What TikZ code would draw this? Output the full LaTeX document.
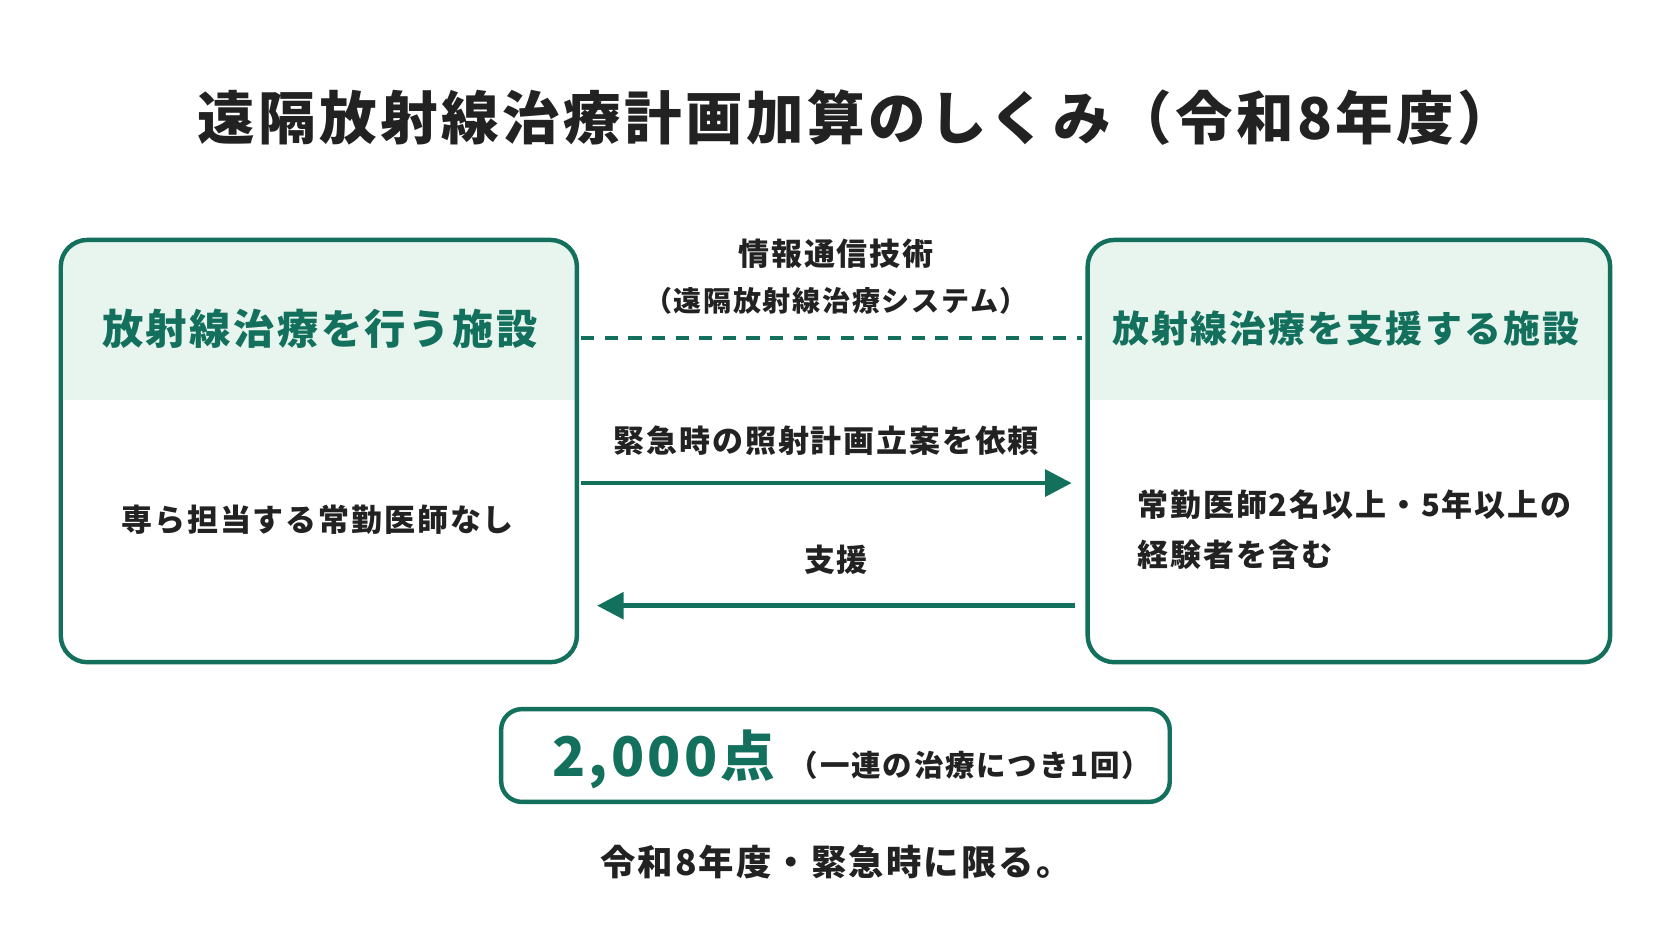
\documentclass[tikz,border=0pt]{standalone}
\usepackage{fontspec}
\setmainfont{Noto Sans CJK JP}[LetterSpace=6]
\usetikzlibrary{positioning,calc,arrows.meta}
\definecolor{deepgreen}{HTML}{12705C}
\definecolor{palegreen}{HTML}{E8F5EE}
\definecolor{inkgray}{HTML}{222222}
\tikzset{
  facility/.style={draw=deepgreen,line width=3pt,rounded corners=18pt},
  headtext/.style={text=deepgreen,font=\bfseries\fontsize{27}{34}\selectfont},
  bodytext/.style={text=inkgray,font=\bfseries\fontsize{21}{34}\selectfont},
  linktext/.style={text=inkgray,font=\bfseries\fontsize{21}{26}\selectfont},
  flow/.style={draw=deepgreen,line width=3pt,-{Triangle[length=18pt,width=18pt]}}
}
\begin{document}
\begin{tikzpicture}[x=0.0254cm,y=-0.0254cm]
        \useasboundingbox[fill=white] (0,0) rectangle (1568,882);
        \node[font=\bfseries\fontsize{39}{46}\selectfont,text=inkgray] (title) at (803,110) {遠隔放射線治療計画加算のしくみ（令和8年度）};

        % left facility
        \begin{scope}
            \clip[rounded corners=18pt] (57,225) rectangle (541,621);
            \fill[palegreen] (57,225) rectangle (541,375);
        \end{scope}
        \draw[facility] (57,225) rectangle (541,621);
        \node[headtext,font=\bfseries\fontsize{28}{34}\selectfont] (lefthead) at (300,308) {放射線治療を行う施設};
        \node[bodytext] (leftbody) at (298,487) {専ら担当する常勤医師なし};
        \coordinate (leftdash) at (545,317);
        \coordinate (leftup) at (545,453);
        \coordinate (leftdown) at (560,568);

        % right facility
        \begin{scope}
            \clip[rounded corners=18pt] (1020,225) rectangle (1510,621);
            \fill[palegreen] (1020,225) rectangle (1510,375);
        \end{scope}
        \draw[facility] (1020,225) rectangle (1510,621);
        \node[headtext,font=\bfseries\fontsize{25}{34}\selectfont] (righthead) at (1262,308) {放射線治療を支援する施設};
        \node[bodytext,anchor=west,align=left] (rightbody) at (1062,497) {常勤医師2名以上・5年以上の\\経験者を含む};
        \coordinate (rightdash) at (1015,317);
        \coordinate (rightup) at (1005,453);
        \coordinate (rightdown) at (1008,568);

        % links
        \node[linktext] (ict) at (784,238) {情報通信技術};
        \node[linktext,font=\bfseries\fontsize{19}{24}\selectfont] (system) at (784,282) {（遠隔放射線治療システム）};
        \draw[deepgreen,line width=2.5pt,dash pattern=on 9pt off 7pt] (leftdash) -- (rightdash);
        \draw[flow] (leftup) -- (rightup) node[linktext,midway,above=14pt] (request) {緊急時の照射計画立案を依頼};
        \draw[flow] (rightdown) -- (leftdown) node[linktext,midway,above=16pt] (support) {支援};

        % points
        \draw[facility,rounded corners=14pt] (470,665) rectangle (1097,752);
        \node[text=deepgreen,font=\bfseries\fontsize{37}{46}\selectfont,anchor=base east] (points) at (732,728) {2,000点};
        \node[text=inkgray,font=\bfseries\fontsize{20}{24}\selectfont,anchor=base west] (per) at (735,728) {（一連の治療につき1回）};
        \node[text=inkgray,font=\bfseries\fontsize{24}{28}\selectfont] (limit) at (784,808) {令和8年度・緊急時に限る。};
\end{tikzpicture}
\end{document}
